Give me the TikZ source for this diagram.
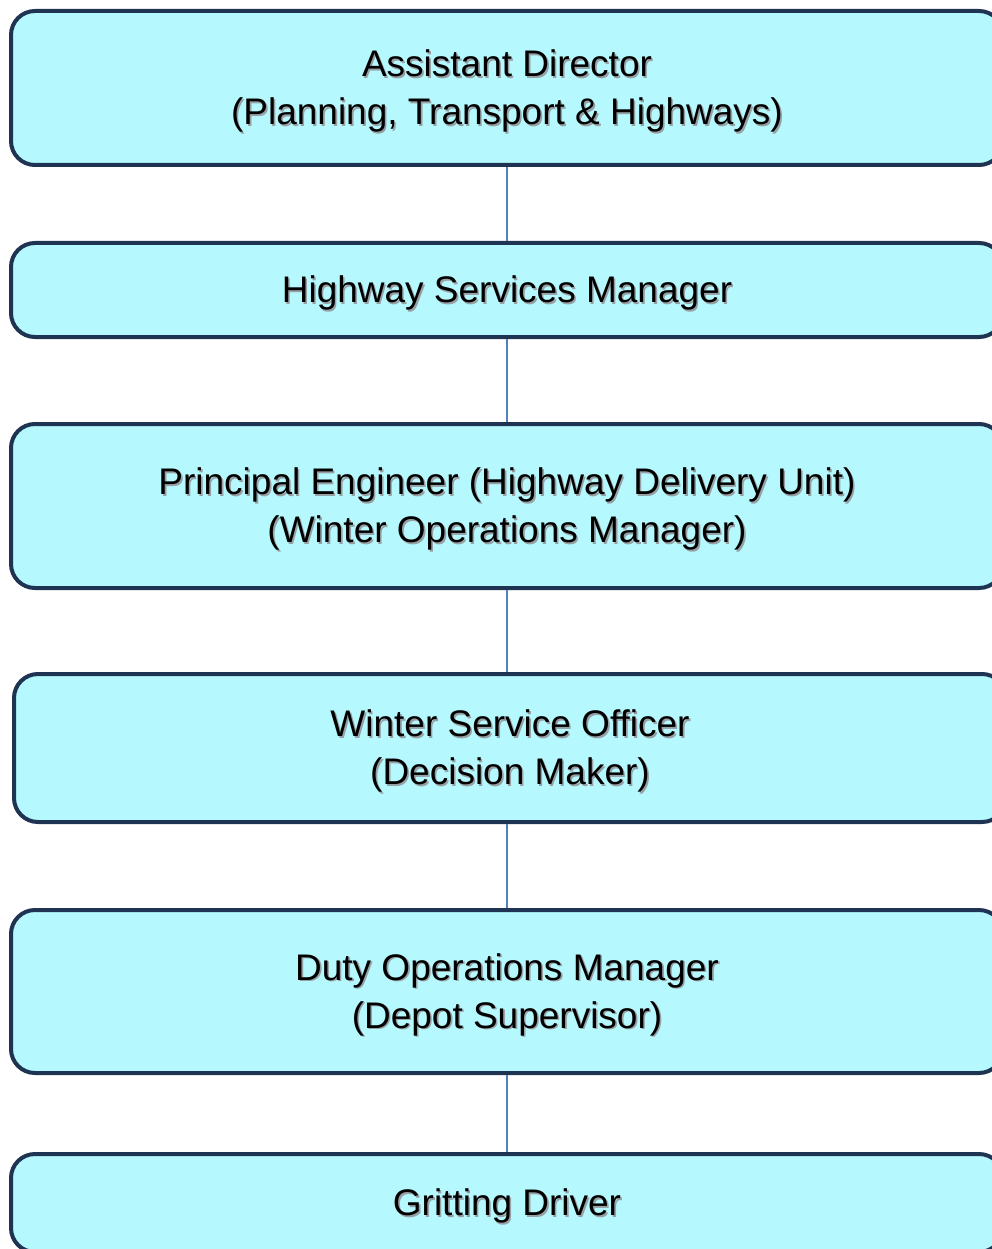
\documentclass[tikz,border=0pt]{standalone}
\usepackage{fontspec}
\setmainfont{Liberation Sans}
\usetikzlibrary{positioning}

\definecolor{boxfill}{RGB}{181,248,254}
\definecolor{boxline}{RGB}{31,52,82}
\definecolor{linkblue}{RGB}{79,129,189}
\definecolor{shadegray}{RGB}{150,160,165}

% text with a soft drop shadow, set a little lower
\newcommand{\shd}[1]{\raisebox{-4pt}[\height][\depth]{\makebox[0pt][l]{\hspace{1.6pt}\raisebox{-1.6pt}{\textcolor{shadegray}{#1}}}#1}}

\tikzset{
  post/.style={draw=boxline,fill=boxfill,line width=4pt,rounded corners=24pt,
    minimum width=992pt,align=center,font=\fontsize{37}{48}\selectfont},
  link/.style={draw=linkblue,line width=1.5pt}
}

\begin{document}
\begin{tikzpicture}[x=1pt,y=1pt]
    \useasboundingbox (0,0) rectangle (992,-1249);
    \clip (0,0) rectangle (992,-1249);

    \node[post,minimum height=154pt] (ad)  at (507,-88)    {\shd{Assistant Director}\\\shd{(Planning, Transport \& Highways)}};
    \node[post,minimum height=94pt]  (hsm) at (507,-290)   {\shd{Highway Services Manager}};
    \node[post,minimum height=164pt] (pe)  at (507,-506)   {\shd{Principal Engineer (Highway Delivery Unit)}\\\shd{(Winter Operations Manager)}};
    \node[post,minimum height=148pt] (wso) at (510,-748)   {\shd{Winter Service Officer}\\\shd{(Decision Maker)}};
    \node[post,minimum height=163pt] (dom) at (507,-991.5) {\shd{Duty Operations Manager}\\\shd{(Depot Supervisor)}};
    \node[post,minimum height=98pt]  (gd)  at (507,-1203)  {\shd{Gritting Driver}};

    \path[link] (ad) edge (hsm)
                (hsm) edge (pe)
                (pe) edge (wso.north -| pe)
                (wso.south -| dom) edge (dom)
                (dom) edge (gd);
\end{tikzpicture}
\end{document}
